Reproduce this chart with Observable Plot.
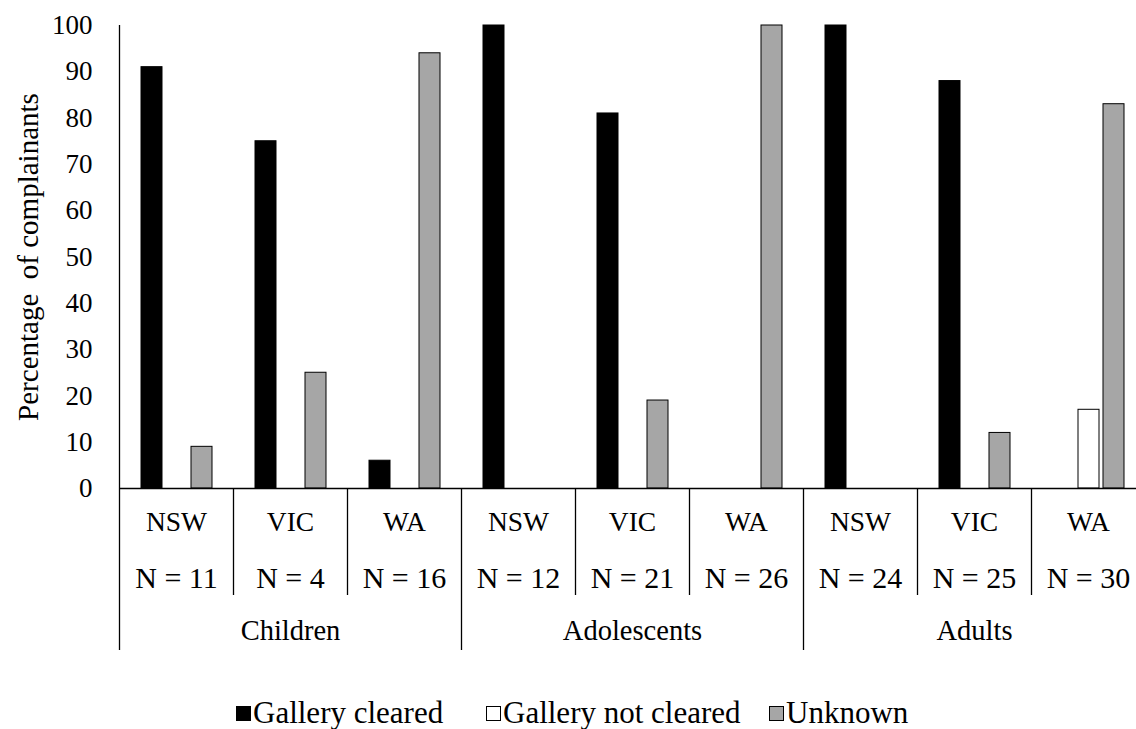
<!DOCTYPE html>
<html>
<head>
<meta charset="utf-8">
<script src="https://cdn.jsdelivr.net/npm/d3@7"></script>
<script src="https://cdn.jsdelivr.net/npm/@observablehq/plot@0.6"></script>
<style>
  html, body { margin: 0; padding: 0; background: white; overflow: hidden; }
  #chart svg { display: block; overflow: visible; }
  .legend { position: relative; height: 69px;
    font-family: "Liberation Serif", "Times New Roman", serif; font-size: 31px; line-height: 32px; color: black; }
  .legend .item { position: absolute; top: 37px; display: flex; align-items: center; white-space: nowrap; }
  .legend .sw { width: 15px; height: 15px; border: 1px solid black; margin-right: 2px; box-sizing: border-box; }
</style>
</head>
<body>
<div id="chart"></div>
<div class="legend" id="legend"></div>
<script>
// ---- data ----
const groups = ["Children", "Children", "Children", "Adolescents", "Adolescents", "Adolescents", "Adults", "Adults", "Adults"];
const states = ["NSW", "VIC", "WA", "NSW", "VIC", "WA", "NSW", "VIC", "WA"];
const nLabels = ["N = 11", "N = 4", "N = 16", "N = 12", "N = 21", "N = 26", "N = 24", "N = 25", "N = 30"];
const seriesNames = ["Gallery cleared", "Gallery not cleared", "Unknown"];
const galleryCleared = [91, 75, 6, 100, 81, 0, 100, 88, 0];
const galleryNotCleared = [0, 0, 0, 0, 0, 0, 0, 0, 17];
const unknown = [9, 25, 94, 0, 19, 100, 0, 12, 83];
const seriesColors = ["#000000", "#ffffff", "#a6a6a6"];
const yTicks = [0, 10, 20, 30, 40, 50, 60, 70, 80, 90, 100];

// ---- build tables ----
const keys = states.map((s, i) => i + "|" + s);
const categories = keys.map((k, i) => ({key: k, group: groups[i], state: states[i], n: nLabels[i], mid: i % 3 === 1}));
const seriesValues = [galleryCleared, galleryNotCleared, unknown];
const bars = [];
keys.forEach((k, i) => seriesNames.forEach((s, j) => {
  if (seriesValues[j][i] > 0) bars.push({key: k, series: s, value: seriesValues[j][i]});
}));

const FONT = "'Liberation Serif', 'Times New Roman', serif";
const plot = Plot.plot({
  width: 1136,
  height: 660,
  marginLeft: 118,
  marginRight: -10,
  marginTop: 25,
  marginBottom: 172,
  style: {fontFamily: FONT, fontSize: "27px", color: "black", background: "white", overflow: "visible"},
  fx: {domain: keys, padding: 0, axis: null},
  x: {domain: seriesNames, paddingInner: 0.17, paddingOuter: 0.78, axis: null},
  y: {domain: [0, 100]},
  color: {domain: seriesNames, range: seriesColors},
  marks: [
    Plot.axisY({ticks: yTicks, tickSize: 0, tickPadding: 27, label: null, fontSize: 27, fontFamily: FONT}),
    Plot.axisY({ticks: [], tickSize: 0, label: "Percentage  of complainants",
      labelAnchor: "center", labelOffset: 102, labelArrow: "none", fontSize: 29, fontFamily: FONT}),
    Plot.barY(bars, {fx: "key", x: "series", y: "value", fill: "series", stroke: "black", strokeWidth: 1}),
    Plot.ruleY([0], {stroke: "black", strokeWidth: 1.3}),
    Plot.text(categories, {fx: "key", text: "state", frameAnchor: "bottom", lineAnchor: "middle", dy: 34, fontSize: 27.5, fontFamily: FONT}),
    Plot.text(categories, {fx: "key", text: "n", frameAnchor: "bottom", lineAnchor: "middle", dy: 90, fontSize: 30, fontFamily: FONT}),
    Plot.text(categories.filter(d => d.mid), {fx: "key", text: "group", frameAnchor: "bottom", lineAnchor: "middle", dy: 142, fontSize: 28.5, fontFamily: FONT})
  ]
});
document.getElementById("chart").appendChild(plot);

// ---- category separators, placed with the plot's own scales ----
const fx = plot.scale("fx");
const y = plot.scale("y");
const svg = d3.select(plot);
const y0 = y.apply(0), yTop = y.apply(100);
const bw = fx.bandwidth;
const g = svg.append("g").attr("stroke", "black").attr("stroke-width", 1.3);
keys.forEach((k, i) => {
  const xPos = Math.round(fx.apply(k)) + 0.5;
  const isGroup = i % 3 === 0;
  g.append("line").attr("x1", xPos).attr("x2", xPos)
    .attr("y1", i === 0 ? yTop : y0)
    .attr("y2", isGroup ? y0 + 162 : y0 + 107);
});
{
  const xEnd = Math.round(fx.apply(keys[keys.length - 1]) + bw) + 0.5;
  g.append("line").attr("x1", xEnd).attr("x2", xEnd).attr("y1", y0).attr("y2", y0 + 162);
}

// ---- legend ----
const legendLeft = [236, 486, 769];
const legend = d3.select("#legend");
seriesNames.forEach((s, j) => {
  const it = legend.append("div").attr("class", "item").style("left", legendLeft[j] + "px");
  it.append("div").attr("class", "sw").style("background", seriesColors[j]);
  it.append("span").text(s);
});
</script>
</body>
</html>
